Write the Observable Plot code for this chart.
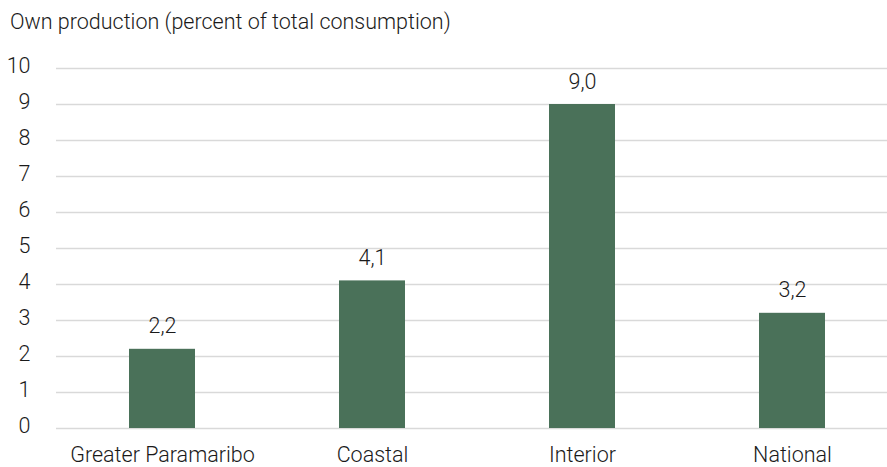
<!DOCTYPE html>
<html>
<head>
<meta charset="utf-8">
<script src="https://cdn.jsdelivr.net/npm/d3@7"></script>
<script src="https://cdn.jsdelivr.net/npm/@observablehq/plot@0.6"></script>
<style>
  html, body { margin: 0; padding: 0; background: #fff; overflow: hidden; }
  #title { font-family: Roboto, "Noto Sans", sans-serif; font-size: 21.5px; font-weight: 300; color: #1a1a1a;
           height: 40px; line-height: 24px; padding: 10px 0 0 10px; box-sizing: border-box; white-space: nowrap; }
  #chart svg { display: block; }
</style>
</head>
<body>
<div id="title">Own production (percent of total consumption)</div>
<div id="chart"></div>
<script>
// Share of consumption covered by own production, by region
const regions = ["Greater Paramaribo", "Coastal", "Interior", "National"];
const values = [2.2, 4.1, 9.0, 3.2];
const yTicks = [0, 1, 2, 3, 4, 5, 6, 7, 8, 9, 10];

const data = regions.map((region, i) => ({region, value: values[i]}));
const fmt = v => v.toFixed(1).replace(".", ",");

const chart = Plot.plot({
  width: 887,
  height: 427,
  marginTop: 28,
  marginBottom: 39,
  marginLeft: 56,
  marginRight: 0,
  style: {fontFamily: "Roboto, 'Noto Sans', sans-serif", fontSize: "21.5px", fontWeight: 300, color: "#1a1a1a", background: "#fff", overflow: "visible"},
  x: {domain: regions, range: [57, 897], paddingInner: 0.686, paddingOuter: 0.343, label: null},
  y: {domain: [0, 10], label: null},
  marks: [
    Plot.gridY(yTicks, {stroke: "#d9d9d9", strokeOpacity: 1, strokeWidth: 1.5}),
    Plot.axisY(yTicks, {tickSize: 0, tickPadding: 26, label: null, fontSize: 21.5, dy: -2}),
    Plot.axisX({tickSize: 0, tickPadding: 18, label: null, fontSize: 21.5}),
    Plot.barY(data, {x: "region", y: "value", fill: "#4a7159"}),
    Plot.text(data, {x: "region", y: "value", text: d => fmt(d.value), lineAnchor: "bottom", dy: -16, fontSize: 21.5, fill: "#1a1a1a"})
  ]
});
document.getElementById("chart").append(chart);
</script>
</body>
</html>
